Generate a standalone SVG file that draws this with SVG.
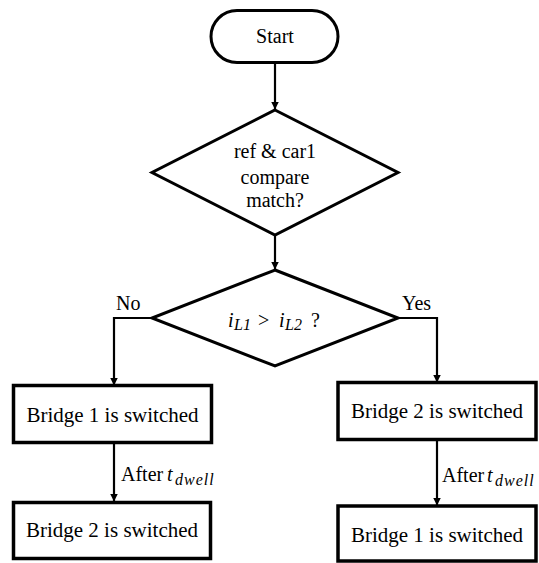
<svg xmlns="http://www.w3.org/2000/svg" width="539" height="563" viewBox="0 0 539 563">
  <style>
    .shape { fill: #fff; stroke: #000; stroke-width: 3; }
    .box { fill: #fff; stroke: #000; stroke-width: 3.5; }
    .edge { fill: none; stroke: #000; stroke-width: 2.2; }
    text { font-family: 'Liberation Serif', 'Times New Roman', serif; font-size: 20px; fill: #000; }
    .big { font-size: 21px; }
    .m { font-style: italic; }
    .sub { font-style: italic; font-size: 16px; }
  </style>
  <defs>
    <marker id="arrow" markerWidth="8" markerHeight="9" refX="7.5" refY="4" orient="auto" markerUnits="userSpaceOnUse" viewBox="0 0 8 8">
      <path d="M0,0 L8,4 L0,8 Z" fill="#000"/>
    </marker>
  </defs>

  <!-- connectors -->
  <g id="connectors">
    <path class="edge" d="M275,63 V109" marker-end="url(#arrow)"/>
    <path class="edge" d="M275,235 V269" marker-end="url(#arrow)"/>
    <path class="edge" d="M152,318 H114 V385" marker-end="url(#arrow)"/>
    <path class="edge" d="M398,318 H437 V382" marker-end="url(#arrow)"/>
    <path class="edge" d="M114,443 V501" marker-end="url(#arrow)"/>
    <path class="edge" d="M437,440 V505" marker-end="url(#arrow)"/>
  </g>

  <g id="start">
    <rect class="shape" x="211" y="10.5" width="127" height="52" rx="26" ry="26"/>
    <text x="275" y="43" text-anchor="middle">Start</text>
  </g>

  <g id="compare">
    <polygon class="shape" points="275,110 398,172.5 275,235 152,172.5"/>
    <text x="275" y="158" text-anchor="middle">ref &amp; car1</text>
    <text x="275" y="184" text-anchor="middle">compare</text>
    <text x="275" y="207" text-anchor="middle">match?</text>
  </g>

  <g id="current-check">
    <polygon class="shape" points="275,270 398,318 275,366 152,318"/>
    <text y="327"><tspan class="m" x="228">i</tspan><tspan class="sub" x="234" y="330">L1</tspan><tspan x="258" y="327">&gt;</tspan><tspan class="m" x="279">i</tspan><tspan class="sub" x="285" y="330">L2</tspan><tspan x="311" y="327">?</tspan></text>
    <text x="116" y="310">No</text>
    <text x="402" y="310">Yes</text>
  </g>

  <g id="left-first">
    <rect class="box" x="13.5" y="385.5" width="198" height="57"/>
    <text class="big" x="112.5" y="421.5" text-anchor="middle">Bridge 1 is switched</text>
  </g>
  <text x="121" y="481">After<tspan class="m" x="167">t</tspan><tspan class="sub" x="175" y="485" letter-spacing="1">dwell</tspan></text>
  <g id="left-second">
    <rect class="box" x="13.5" y="502.5" width="197" height="56"/>
    <text class="big" x="112" y="537" text-anchor="middle">Bridge 2 is switched</text>
  </g>

  <g id="right-first">
    <rect class="box" x="338" y="382.5" width="198" height="57"/>
    <text class="big" x="437" y="418" text-anchor="middle">Bridge 2 is switched</text>
  </g>
  <text x="442" y="482">After<tspan class="m" x="487">t</tspan><tspan class="sub" x="495" y="486" letter-spacing="1">dwell</tspan></text>
  <g id="right-second">
    <rect class="box" x="338" y="506" width="198" height="55"/>
    <text class="big" x="437" y="542" text-anchor="middle">Bridge 1 is switched</text>
  </g>
</svg>
